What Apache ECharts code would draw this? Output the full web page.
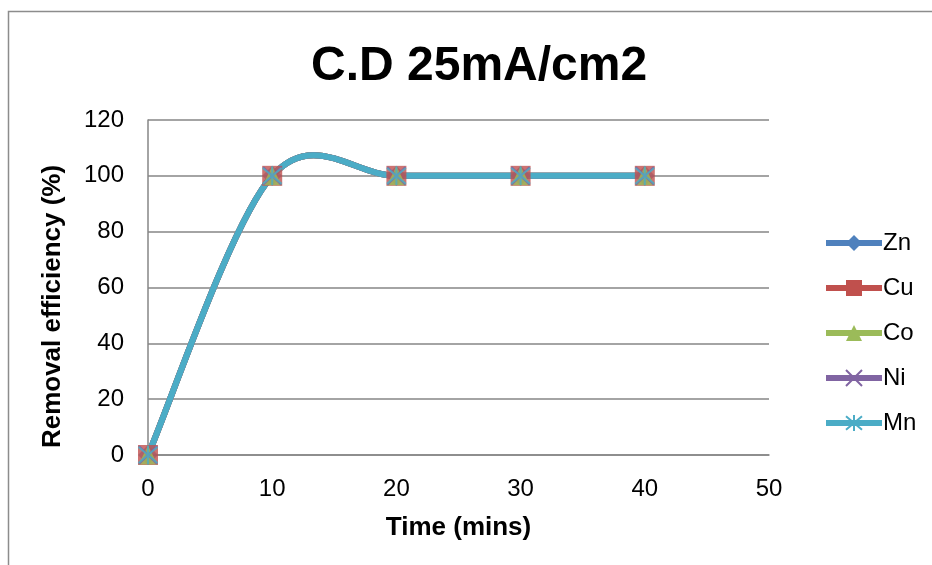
<!DOCTYPE html>
<html>
<head>
<meta charset="utf-8">
<script src="https://cdn.jsdelivr.net/npm/echarts@6/dist/echarts.min.js"></script>
<style>
  html, body { margin: 0; padding: 0; background: #fff; }
  #chart { width: 932px; height: 565px; }
</style>
</head>
<body>
<div id="chart"></div>
<script>
// Sampling times (mins) and removal efficiency (%) per metal
const times = [0, 10, 20, 30, 40];
const zn = [0, 100, 100, 100, 100];
const cu = [0, 100, 100, 100, 100];
const co = [0, 100, 100, 100, 100];
const ni = [0, 100, 100, 100, 100];
const mn = [0, 100, 100, 100, 100];

const yTicks = { min: 0, max: 120, interval: 20 };
const xTicks = { min: 0, max: 50, interval: 10 };

const FONT = '"Liberation Sans", Arial, sans-serif';
const GRID_GRAY = '#868686';
const LINE_W = 6;

const metals = [
  { name: 'Zn', values: zn, color: '#4F81BD', symbol: 'diamond', size: 20, stroke: false },
  { name: 'Cu', values: cu, color: '#C0504D', symbol: 'rect', size: 20, stroke: false },
  { name: 'Co', values: co, color: '#9BBB59', symbol: 'triangle', size: 19, stroke: false },
  { name: 'Ni', values: ni, color: '#8064A2', symbol: 'path://M0,0L10,10M0,10L10,0', size: 18, stroke: true },
  { name: 'Mn', values: mn, color: '#4BACC6', symbol: 'path://M0,0L10,10M0,10L10,0M5,-1L5,11', size: 19, stroke: true }
];

function pairs(vals) {
  return times.map((t, i) => [t, vals[i]]);
}

function markerStyle(m) {
  return m.stroke
    ? { color: m.color, borderColor: m.color, borderWidth: 2 }
    : { color: m.color, borderColor: m.color, borderWidth: 0 };
}

// Catmull-Rom style smoothing (tension 1/6) through the projected points
function smoothCurve(m) {
  return function (params, api) {
    if (params.dataIndex !== 0) return null;
    const pts = m.values.map((v, i) => api.coord([times[i], v]));
    const children = [];
    for (let i = 0; i < pts.length - 1; i++) {
      const p0 = pts[Math.max(i - 1, 0)];
      const p1 = pts[i];
      const p2 = pts[i + 1];
      const p3 = pts[Math.min(i + 2, pts.length - 1)];
      children.push({
        type: 'bezierCurve',
        shape: {
          x1: p1[0], y1: p1[1],
          x2: p2[0], y2: p2[1],
          cpx1: p1[0] + (p2[0] - p0[0]) / 6,
          cpy1: p1[1] + (p2[1] - p0[1]) / 6,
          cpx2: p2[0] - (p3[0] - p1[0]) / 6,
          cpy2: p2[1] - (p3[1] - p1[1]) / 6
        },
        style: { stroke: m.color, lineWidth: LINE_W, fill: null, lineCap: 'round' }
      });
    }
    return { type: 'group', children: children };
  };
}

// Legend entries (line + symbol icons)
const legendSeries = metals.map(m => ({
  name: m.name,
  type: 'line',
  data: [],
  symbol: m.symbol,
  symbolSize: m.size,
  lineStyle: { color: m.color, width: LINE_W },
  itemStyle: markerStyle(m)
}));

// Smoothed curves
const curveSeries = metals.map(m => ({
  name: m.name + ' curve',
  type: 'custom',
  data: pairs(m.values),
  encode: { x: 0, y: 1 },
  renderItem: smoothCurve(m),
  z: 2,
  silent: true
}));

// Markers drawn above every curve
const markerSeries = metals.map(m => ({
  name: m.name + ' markers',
  type: 'scatter',
  data: pairs(m.values),
  symbol: m.symbol,
  symbolSize: m.size,
  z: 3,
  itemStyle: markerStyle(m),
  emphasis: { disabled: true }
}));

const chart = echarts.init(document.getElementById('chart'), null, { renderer: 'canvas' });
chart.setOption({
  animation: false,
  backgroundColor: '#fff',
  title: {
    text: 'C.D 25mA/cm2',
    left: 306,
    top: 38,
    textStyle: { fontFamily: FONT, fontSize: 48, fontWeight: 'bold', color: '#000' }
  },
  graphic: [{
    type: 'rect',
    shape: { x: 8.5, y: 11.5, width: 1000, height: 1000 },
    style: { fill: 'none', stroke: '#8c8c8c', lineWidth: 1.5 },
    silent: true
  }],
  legend: {
    data: metals.map(m => m.name),
    orient: 'vertical',
    left: 823,
    top: 231,
    padding: 0,
    itemWidth: 56,
    itemHeight: 20,
    itemGap: 21,
    lineStyle: { width: 'inherit' },
    textStyle: { fontFamily: FONT, fontSize: 24, color: '#000', padding: [0, 0, 0, -4] },
    selectedMode: false
  },
  grid: { left: 148, right: 163, top: 120, bottom: 110, containLabel: false },
  xAxis: {
    type: 'value',
    min: xTicks.min, max: xTicks.max, interval: xTicks.interval,
    name: 'Time (mins)',
    nameLocation: 'middle',
    nameGap: 60,
    nameTextStyle: { fontFamily: FONT, fontSize: 26, fontWeight: 'bold', color: '#000' },
    axisLine: { show: true, lineStyle: { color: GRID_GRAY, width: 1.5 } },
    axisTick: { show: false },
    splitLine: { show: false },
    axisLabel: { fontFamily: FONT, fontSize: 24, color: '#000', margin: 22 }
  },
  yAxis: {
    type: 'value',
    min: yTicks.min, max: yTicks.max, interval: yTicks.interval,
    name: 'Removal efficiency (%)',
    nameLocation: 'middle',
    nameGap: 82,
    nameRotate: 90,
    nameTextStyle: { fontFamily: FONT, fontSize: 26, fontWeight: 'bold', color: '#000', padding: [0, 38, 0, 0] },
    axisLine: { show: true, lineStyle: { color: GRID_GRAY, width: 1.5 } },
    axisTick: { show: false },
    splitLine: { show: true, lineStyle: { color: GRID_GRAY, width: 1.5 } },
    axisLabel: { fontFamily: FONT, fontSize: 24, color: '#000', margin: 24 }
  },
  series: legendSeries.concat(curveSeries, markerSeries)
});
</script>
</body>
</html>
